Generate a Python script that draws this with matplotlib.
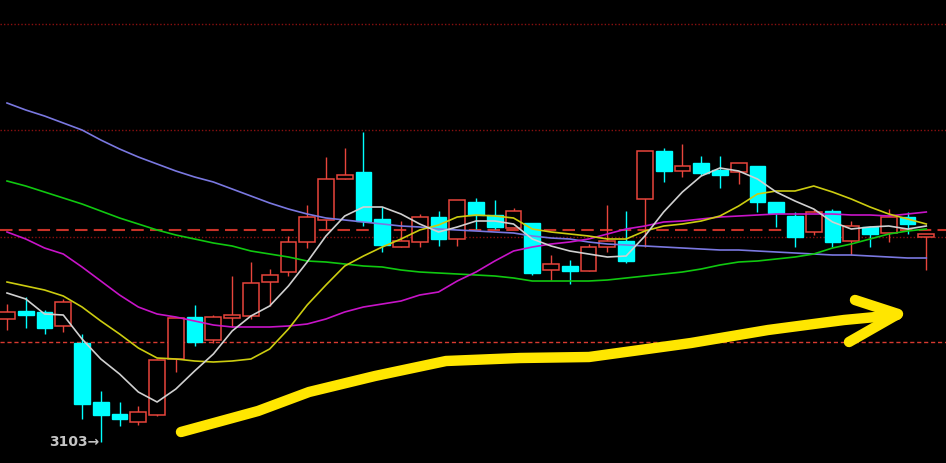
import numpy as np
import matplotlib
matplotlib.use('Agg')
import matplotlib.pyplot as plt

# daily candles
opens = [3164.5, 3168.5, 3168, 3161, 3152.5, 3123, 3117, 3113, 3116.5, 3144.5,
         3165.5, 3154, 3165, 3166, 3183, 3188, 3203, 3214, 3234.5, 3238,
         3214.5, 3200.5, 3203, 3215.5, 3204.5, 3223, 3216.5, 3210, 3212.5, 3189,
         3191, 3188.5, 3200.5, 3203.5, 3224.5, 3248.5, 3238.5, 3242.5, 3239, 3238,
         3241, 3223, 3216, 3208, 3218.5, 3203.5, 3210.5, 3207.5, 3215.5, 3205.5]
highs = [3172, 3175.5, 3169, 3174.5, 3157, 3128.5, 3123, 3121, 3144.5, 3165,
         3171.5, 3166.5, 3186, 3193, 3189.5, 3206, 3221.5, 3245.5, 3250, 3258,
         3220.5, 3213.5, 3217, 3218.5, 3224, 3225, 3224, 3220, 3212.5, 3196.5,
         3194, 3202, 3221.5, 3218.5, 3248.5, 3250, 3252, 3246, 3246, 3242.5,
         3241, 3223, 3218, 3219.5, 3219.5, 3213.5, 3211, 3219.5, 3218, 3207]
lows = [3159, 3160, 3157, 3158, 3114.5, 3103, 3111, 3111.5, 3116, 3138,
        3151, 3152.5, 3160.5, 3164.5, 3171, 3186, 3200, 3209.5, 3234.5, 3211,
        3198, 3200.5, 3200.5, 3201, 3201, 3209.5, 3209.5, 3210, 3186.5, 3184,
        3182, 3188.5, 3198, 3192.5, 3200.5, 3233, 3235.5, 3236.5, 3230, 3232,
        3218, 3210.5, 3200.5, 3206.5, 3200.5, 3196.5, 3200.5, 3203, 3207, 3189]
closes = [3168, 3166.5, 3160, 3173, 3122, 3116.5, 3114.5, 3118, 3144, 3165,
          3153, 3165.5, 3166.5, 3182.5, 3186.5, 3203, 3215.5, 3234.5, 3236.5, 3213.5,
          3201.5, 3203.5, 3215.5, 3204.5, 3224, 3216.5, 3210.5, 3218.5, 3187.5, 3192,
          3188.5, 3200.5, 3203.5, 3193.5, 3248.5, 3238.5, 3241, 3237.5, 3236.5, 3242.5,
          3223, 3217.5, 3205.5, 3218, 3203, 3211, 3207, 3215.5, 3212, 3207]

# moving averages as drawn
ma5 = [3177.5, 3174.5, 3167, 3166.5, 3154.5, 3144.5, 3137, 3128, 3123, 3129.5,
       3138.5, 3147, 3158.5, 3166, 3171, 3181, 3193, 3206, 3216, 3220.5,
       3220.5, 3217, 3212, 3208, 3210.5, 3213.5, 3213.5, 3212, 3204.5, 3201,
       3198.5, 3197, 3195.5, 3196, 3206, 3218, 3228, 3236, 3240, 3238.5,
       3234.5, 3228, 3223.5, 3219.5, 3213, 3209.5, 3210.5, 3211, 3209.5, 3211]
ma10 = [3183, 3181, 3179, 3176, 3170.5, 3163.5, 3157, 3150, 3145, 3144.5,
        3143.5, 3143, 3143.5, 3144.5, 3149.5, 3159.5, 3171.5, 3181.5, 3191, 3196,
        3200.5, 3204.5, 3209, 3211.5, 3215.5, 3216.5, 3216, 3215, 3209.5, 3208,
        3207, 3206, 3204.5, 3204.5, 3208.5, 3211, 3212, 3213.5, 3216, 3221,
        3227, 3228.5, 3228.5, 3231, 3228, 3224.5, 3220.5, 3217, 3214.5, 3212]
ma20 = [3208, 3204.5, 3200, 3197, 3190.5, 3183.5, 3176.5, 3170.5, 3167, 3165.5,
        3163.5, 3161.5, 3160.5, 3160.5, 3160.5, 3161, 3162, 3164.5, 3168, 3170.5,
        3172, 3173.5, 3176.5, 3178, 3183.5, 3188, 3193.5, 3198.5, 3200.5, 3202,
        3203, 3204.5, 3207, 3209.5, 3211, 3213, 3213.5, 3214.5, 3215.5, 3216,
        3216.5, 3217, 3217, 3217, 3217, 3216.5, 3216.5, 3216, 3217, 3218]
ma60 = [3233.5, 3231, 3228, 3225, 3222, 3218.5, 3215, 3212, 3209, 3206.5,
        3204.5, 3202.5, 3201, 3198.5, 3197, 3195.5, 3193.5, 3193, 3192, 3191,
        3190.5, 3189, 3188, 3187.5, 3187, 3186.5, 3186, 3185, 3183.5, 3183.5,
        3183.5, 3183.5, 3184, 3185, 3186, 3187, 3188, 3189.5, 3191.5, 3193,
        3193.5, 3194.5, 3195.5, 3197, 3200, 3202, 3204.5, 3207, 3208.5, 3209.5]
ma120 = [3272.5, 3269, 3266, 3262.5, 3259, 3254, 3249.5, 3245.5, 3242, 3238.5,
         3235.5, 3233, 3229.5, 3226, 3222.5, 3219.5, 3217, 3215, 3214, 3213,
         3212, 3211, 3210.5, 3209.5, 3209, 3208.5, 3208, 3207.5, 3206, 3205,
         3204.5, 3203, 3202, 3201.5, 3201, 3200.5, 3200, 3199.5, 3199, 3199,
         3198.5, 3198, 3197.5, 3197, 3196.5, 3196.5, 3196, 3195.5, 3195, 3195]

dotted_levels = [3312, 3259, 3205.5]
dashed_level = 3209
low_level = 3153
low_label = '3103\u2192'

# hand-drawn yellow arrow (pixel positions on the 946x464 canvas)
arrow_x = [181, 258, 309, 375, 446, 520, 589, 691, 768, 844, 897]
arrow_y = [433, 412, 393, 377, 362, 359, 358, 344, 331, 321, 316]
head_x = [855, 898, 849]
head_y = [301, 315, 343]

opens = np.array(opens); closes = np.array(closes)
highs = np.array(highs); lows = np.array(lows)
x = np.arange(len(opens))
up = closes >= opens

fig = plt.figure(figsize=(9.46, 4.64), dpi=100)
fig.patch.set_facecolor('black')
ax = fig.add_axes([0, 0, 1, 1])
ax.set_facecolor('black')
ax.set_xlim(-0.373, 50.05)
ax.set_ylim(3092.5, 3324.5)
ax.axis('off')

red = '#e8453c'
cyan = '#00ffff'

for lv in dotted_levels:
    ax.axhline(lv, color='#8a1010', lw=1, linestyle=(0, (1, 1.5)), zorder=1)
ax.axhline(dashed_level, color='#c83228', lw=1.5, linestyle=(0, (6, 3)), zorder=1)
ax.axhline(low_level, color='#d83a30', lw=1, linestyle=(0, (3, 2)), zorder=1)

w = 0.84
ax.vlines(x[up], lows[up], highs[up], color=red, lw=1, zorder=2)
ax.vlines(x[~up], lows[~up], highs[~up], color=cyan, lw=1, zorder=2)
ax.bar(x[up], closes[up] - opens[up], bottom=opens[up], width=w,
       facecolor='black', edgecolor=red, lw=1.1, zorder=3)
ax.bar(x[~up], opens[~up] - closes[~up], bottom=closes[~up], width=w,
       facecolor=cyan, edgecolor=cyan, lw=1, zorder=3)

ax.plot(x, ma120, color='#7a78e0', lw=1.2, zorder=4)
ax.plot(x, ma60, color='#10c810', lw=1.2, zorder=4)
ax.plot(x, ma20, color='#c814c8', lw=1.2, zorder=4)
ax.plot(x, ma10, color='#cccc10', lw=1.2, zorder=4)
ax.plot(x, ma5, color='#d0d0d0', lw=1.2, zorder=4)

imin = int(np.argmin(lows))
ax.text(imin - 0.05, lows[imin] + 0.5, low_label, color='#c4c4c4', fontsize=10,
        fontweight='semibold', ha='right', va='center', zorder=5)

W, H = 946, 464
ax.plot(np.array(arrow_x) / W, 1 - np.array(arrow_y) / H, transform=ax.transAxes,
        color='#ffe600', lw=7.5, solid_capstyle='round', solid_joinstyle='round', zorder=6)
ax.plot(np.array(head_x) / W, 1 - np.array(head_y) / H, transform=ax.transAxes,
        color='#ffe600', lw=7.5, solid_capstyle='round', solid_joinstyle='round', zorder=6)

fig.savefig('out.png', dpi=100, facecolor='black')
